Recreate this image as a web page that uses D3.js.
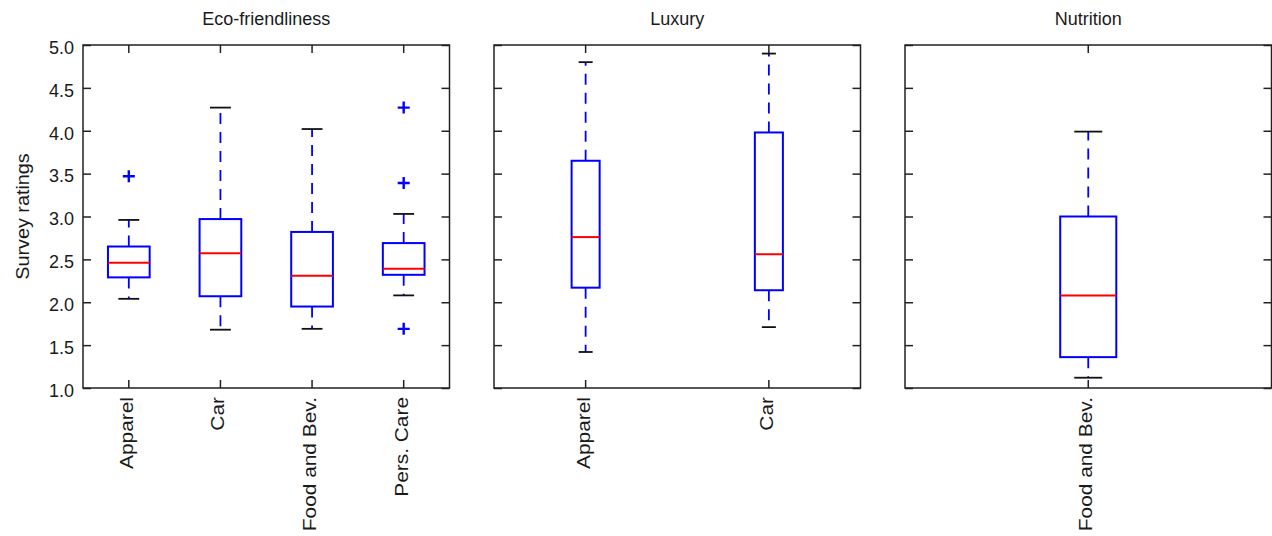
<!DOCTYPE html>
<html>
<head>
<meta charset="utf-8">
<script src="https://cdn.jsdelivr.net/npm/d3@7"></script>
<style>
  body { margin: 0; background: #fff; }
  text { font-family: "Liberation Sans", Arial, sans-serif; fill: #1a1a1a; }
</style>
</head>
<body>
<script>
// panel titles
var panelTitles = ["Eco-friendliness", "Luxury", "Nutrition"]

// Eco-friendliness
var ecoCategories = ["Apparel", "Car", "Food and Bev.", "Pers. Care"]
var ecoLow    = [2.04, 1.68, 1.69, 2.08]
var ecoQ1     = [2.29, 2.07, 1.95, 2.32]
var ecoMedian = [2.46, 2.57, 2.31, 2.39]
var ecoQ3     = [2.65, 2.97, 2.82, 2.69]
var ecoHigh   = [2.96, 4.27, 4.02, 3.03]
var ecoOutliers = [[3.47], [], [], [4.27, 3.39, 1.69]]

// Luxury
var luxCategories = ["Apparel", "Car"]
var luxLow    = [1.42, 1.71]
var luxQ1     = [2.17, 2.14]
var luxMedian = [2.76, 2.56]
var luxQ3     = [3.65, 3.98]
var luxHigh   = [4.80, 4.90]
var luxOutliers = [[], []]

// Nutrition
var nutCategories = ["Food and Bev."]
var nutLow    = [1.12]
var nutQ1     = [1.36]
var nutMedian = [2.08]
var nutQ3     = [3.00]
var nutHigh   = [3.99]
var nutOutliers = [[]]

var yTicks = [1.0, 1.5, 2.0, 2.5, 3.0, 3.5, 4.0, 4.5, 5.0]
var yLabel = "Survey ratings"

function makeGroup(title, cats, low, q1, med, q3, high, outl) {
  return {
    title: title,
    boxes: cats.map(function(c, i) {
      return {cat: c, low: low[i], q1: q1[i], med: med[i], q3: q3[i], high: high[i], out: outl[i]}
    })
  }
}

var groups = [
  makeGroup(panelTitles[0], ecoCategories, ecoLow, ecoQ1, ecoMedian, ecoQ3, ecoHigh, ecoOutliers),
  makeGroup(panelTitles[1], luxCategories, luxLow, luxQ1, luxMedian, luxQ3, luxHigh, luxOutliers),
  makeGroup(panelTitles[2], nutCategories, nutLow, nutQ1, nutMedian, nutQ3, nutHigh, nutOutliers)
]

var W = 1272, H = 536
var plotTop = 45, plotBottom = 388
var panelLeft = [83, 494, 905]
var panelW = 366.5
var boxFrac = [0.455, 0.153, 0.153]   // box width as share of band
var tickLen = 8
var fs = 18

var svg = d3.select("body").append("svg")
  .attr("width", W)
  .attr("height", H)

var y = d3.scaleLinear().domain([1, 5]).range([plotBottom, plotTop])

groups.forEach(function(g, p) {
  var left = panelLeft[p]
  var x = d3.scaleBand()
    .domain(g.boxes.map(function(d) { return d.cat }))
    .range([left, left + panelW])
  var bw = x.bandwidth() * boxFrac[p]
  var cx = function(d) { return x(d.cat) + x.bandwidth() / 2 }

  var panel = svg.append("g")

  // axes with inside ticks
  var axL = d3.axisLeft(y).tickValues(yTicks).tickSize(-tickLen).tickPadding(9)
    .tickFormat(p == 0 ? d3.format(".1f") : "")
  var axR = d3.axisRight(y).tickValues(yTicks).tickSize(-tickLen).tickFormat("")
  var axB = d3.axisBottom(x).tickSize(-tickLen).tickFormat("")
  var axT = d3.axisTop(x).tickSize(-tickLen).tickFormat("")

  panel.append("g").attr("transform", "translate(" + left + ",0)").call(axL)
  panel.append("g").attr("transform", "translate(" + (left + panelW) + ",0)").call(axR)
  panel.append("g").attr("transform", "translate(0," + plotBottom + ")").call(axB)
  panel.append("g").attr("transform", "translate(0," + plotTop + ")").call(axT)

  panel.selectAll(".domain").remove()
  panel.selectAll(".tick line").attr("stroke", "#222").attr("stroke-width", 1.5)
  panel.selectAll(".tick text")
    .style("font-size", fs + "px")
    .style("font-family", "Liberation Sans, Arial, sans-serif")
    .attr("fill", "#1a1a1a")
    .attr("dy", "0.46em")

  panel.append("rect")
    .attr("x", left).attr("y", plotTop)
    .attr("width", panelW).attr("height", plotBottom - plotTop)
    .attr("fill", "none")
    .attr("stroke", "#222")
    .attr("stroke-width", 1.5)

  // category labels, rotated
  panel.selectAll(".cat").data(g.boxes).enter()
    .append("text")
    .attr("class", "cat")
    .attr("text-anchor", "end")
    .attr("transform", function(d) {
      return "translate(" + (cx(d) + 4) + "," + (plotBottom + 9) + ") rotate(-90) scale(1.16,1)"
    })
    .style("font-size", fs + "px")
    .text(function(d) { return d.cat })

  // title
  panel.append("text")
    .attr("x", left + panelW / 2)
    .attr("y", 25)
    .attr("text-anchor", "middle")
    .style("font-size", fs + "px")
    .text(g.title)

  // whiskers
  var b = panel.selectAll(".box").data(g.boxes).enter().append("g")

  b.append("line")
    .attr("x1", cx).attr("x2", cx)
    .attr("y1", function(d) { return y(d.q3) })
    .attr("y2", function(d) { return y(d.high) })
    .attr("stroke", "#0000ff").attr("stroke-width", 1.8)
    .attr("stroke-dasharray", "11,8")
  b.append("line")
    .attr("x1", cx).attr("x2", cx)
    .attr("y1", function(d) { return y(d.q1) })
    .attr("y2", function(d) { return y(d.low) })
    .attr("stroke", "#0000ff").attr("stroke-width", 1.8)
    .attr("stroke-dasharray", "11,8")

  // caps
  ;["high", "low"].forEach(function(k) {
    b.append("line")
      .attr("x1", function(d) { return cx(d) - bw / 4 })
      .attr("x2", function(d) { return cx(d) + bw / 4 })
      .attr("y1", function(d) { return y(d[k]) })
      .attr("y2", function(d) { return y(d[k]) })
      .attr("stroke", "#111").attr("stroke-width", 1.8)
  })

  // box
  b.append("rect")
    .attr("x", function(d) { return cx(d) - bw / 2 })
    .attr("width", bw)
    .attr("y", function(d) { return y(d.q3) })
    .attr("height", function(d) { return y(d.q1) - y(d.q3) })
    .attr("fill", "none")
    .attr("stroke", "#0000ff").attr("stroke-width", 2)

  // median
  b.append("line")
    .attr("x1", function(d) { return cx(d) - bw / 2 })
    .attr("x2", function(d) { return cx(d) + bw / 2 })
    .attr("y1", function(d) { return y(d.med) })
    .attr("y2", function(d) { return y(d.med) })
    .attr("stroke", "#ff0000").attr("stroke-width", 2)

  // outliers as +
  b.each(function(d) {
    var c = cx(d)
    d3.select(this).selectAll(".out").data(d.out).enter()
      .append("path")
      .attr("d", function(v) {
        var yy = y(v)
        return "M" + (c - 6) + "," + yy + "H" + (c + 6) + "M" + c + "," + (yy - 6) + "V" + (yy + 6)
      })
      .attr("stroke", "#0000ff").attr("stroke-width", 2.4)
      .attr("fill", "none")
  })
})

// y axis label
svg.append("text")
  .attr("text-anchor", "middle")
  .attr("transform", "translate(28.6," + ((plotTop + plotBottom) / 2) + ") rotate(-90) scale(1.1,1)")
  .style("font-size", fs + "px")
  .text(yLabel)
</script>
</body>
</html>
